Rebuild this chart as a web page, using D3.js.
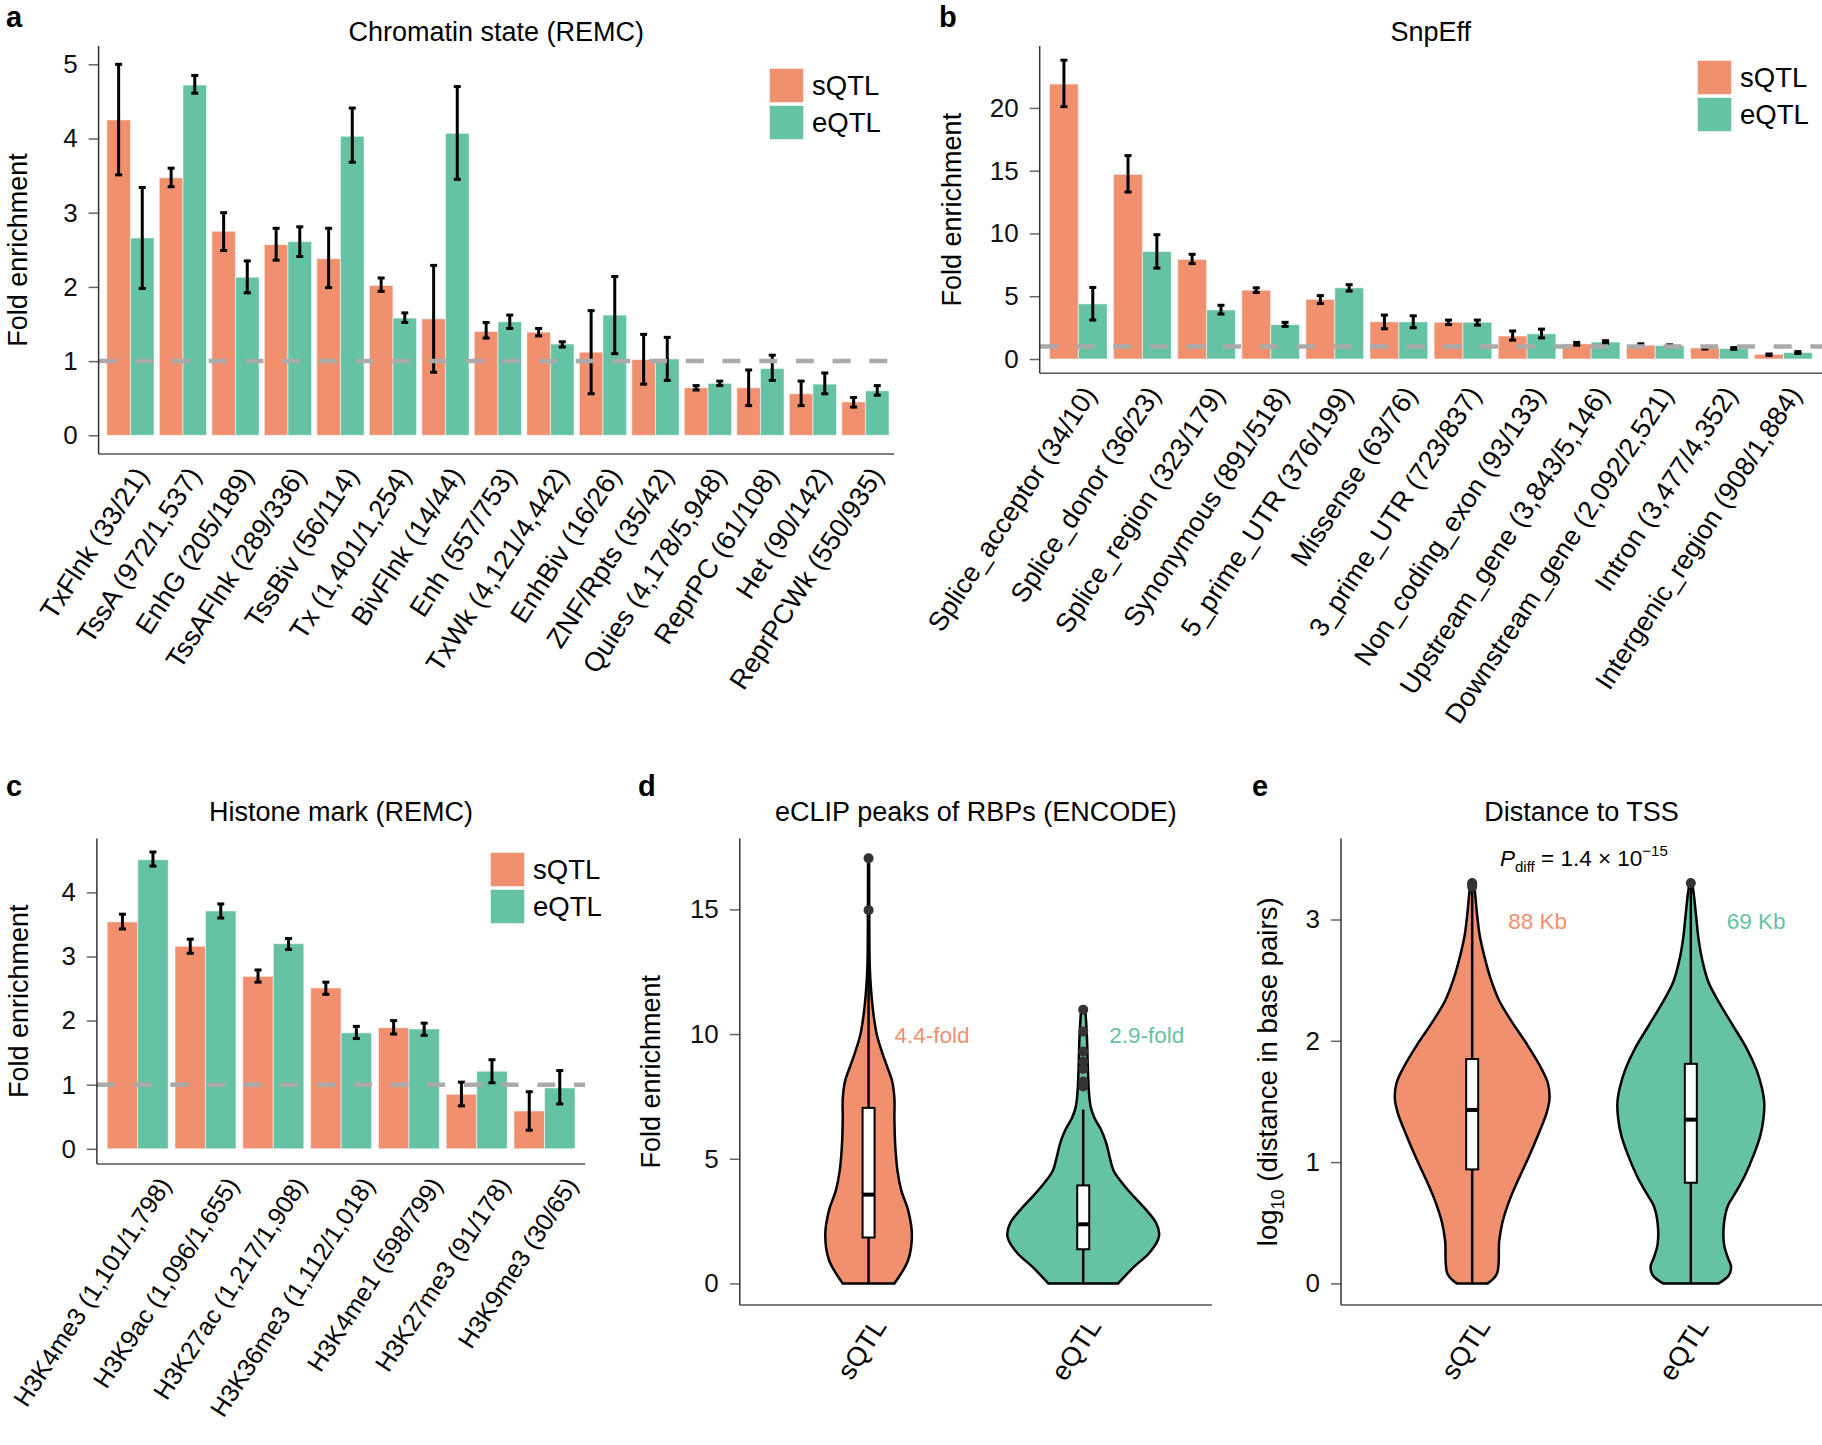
<!DOCTYPE html>
<html>
<head>
<meta charset="utf-8">
<script src="https://cdn.jsdelivr.net/npm/d3@7"></script>
<style>
  body { margin: 0; background: #fff; }
  text { font-family: 'Liberation Sans', Arial, Helvetica, sans-serif; }
</style>
</head>
<body>
<svg id="fig" width="1822" height="1445"></svg>
<script>
// ---- data ----
const groups = ['sQTL', 'eQTL']

const chromCats = ['TxFlnk (33/21)', 'TssA (972/1,537)', 'EnhG (205/189)', 'TssAFlnk (289/336)', 'TssBiv (56/114)',
  'Tx (1,401/1,254)', 'BivFlnk (14/44)', 'Enh (557/753)', 'TxWk (4,121/4,442)', 'EnhBiv (16/26)',
  'ZNF/Rpts (35/42)', 'Quies (4,178/5,948)', 'ReprPC (61/108)', 'Het (90/142)', 'ReprPCWk (550/935)']
const chromS = [4.25, 3.47, 2.75, 2.57, 2.38, 2.02, 1.57, 1.40, 1.39, 1.12, 1.02, 0.64, 0.64, 0.56, 0.45]
const chromE = [2.66, 4.72, 2.13, 2.61, 4.03, 1.58, 4.07, 1.53, 1.23, 1.62, 1.03, 0.70, 0.90, 0.69, 0.60]
const chromSErr = [[3.51, 5.0], [3.35, 3.6], [2.49, 3.0], [2.36, 2.79], [1.99, 2.79], [1.94, 2.12], [0.85, 2.29],
  [1.31, 1.52], [1.34, 1.44], [0.56, 1.68], [0.69, 1.36], [0.61, 0.67], [0.40, 0.88], [0.40, 0.73], [0.38, 0.51]]
const chromEErr = [[1.98, 3.34], [4.61, 4.85], [1.92, 2.35], [2.41, 2.81], [3.68, 4.41], [1.52, 1.65], [3.45, 4.70],
  [1.44, 1.62], [1.19, 1.26], [1.10, 2.14], [0.74, 1.32], [0.67, 0.73], [0.74, 1.08], [0.56, 0.84], [0.54, 0.67]]
const chromTicks = [0, 1, 2, 3, 4, 5]

const snpCats = ['Splice_acceptor (34/10)', 'Splice_donor (36/23)', 'Splice_region (323/179)', 'Synonymous (891/518)',
  '5_prime_UTR (376/199)', 'Missense (63/76)', '3_prime_UTR (723/837)', 'Non_coding_exon (93/133)',
  'Upstream_gene (3,843/5,146)', 'Downstream_gene (2,092/2,521)', 'Intron (3,477/4,352)', 'Intergenic_region (908/1,884)']
const snpS = [21.9, 14.7, 7.93, 5.48, 4.75, 2.96, 2.93, 1.83, 1.21, 1.10, 0.88, 0.37]
const snpE = [4.39, 8.56, 3.91, 2.74, 5.67, 2.96, 2.93, 2.01, 1.35, 1.06, 0.84, 0.51]
const snpSErr = [[20.1, 23.8], [13.3, 16.2], [7.6, 8.34], [5.3, 5.67], [4.42, 5.05], [2.41, 3.5], [2.74, 3.1],
  [1.5, 2.23], [1.1, 1.32], [1.02, 1.21], [0.8, 0.95], [0.29, 0.4]]
const snpEErr = [[3.1, 5.7], [7.24, 9.9], [3.58, 4.28], [2.6, 2.92], [5.41, 5.92], [2.49, 3.44], [2.7, 3.1],
  [1.68, 2.38], [1.24, 1.46], [0.99, 1.13], [0.77, 0.91], [0.44, 0.59]]
const snpTicks = [0, 5, 10, 15, 20]

const histCats = ['H3K4me3 (1,101/1,798)', 'H3K9ac (1,096/1,655)', 'H3K27ac (1,217/1,908)', 'H3K36me3 (1,112/1,018)',
  'H3K4me1 (598/799)', 'H3K27me3 (91/178)', 'H3K9me3 (30/65)']
const histS = [3.54, 3.16, 2.69, 2.51, 1.89, 0.85, 0.59]
const histE = [4.51, 3.71, 3.20, 1.81, 1.87, 1.21, 0.95]
const histSErr = [[3.43, 3.66], [3.05, 3.27], [2.6, 2.79], [2.41, 2.6], [1.79, 2.0], [0.67, 1.04], [0.29, 0.89]]
const histEErr = [[4.41, 4.63], [3.6, 3.82], [3.11, 3.28], [1.72, 1.91], [1.77, 1.96], [1.03, 1.39], [0.70, 1.22]]
const histTicks = [0, 1, 2, 3, 4]

// violin profiles: [value, relative density]
const eclipDensS = [[0, 0.34], [0.93, 0.52], [1.95, 0.57], [2.94, 0.52], [3.73, 0.43], [4.52, 0.38], [5.57, 0.35],
  [6.62, 0.34], [7.41, 0.34], [8.11, 0.31], [8.73, 0.24], [9.25, 0.18], [9.95, 0.11], [10.83, 0.063],
  [11.88, 0.03], [12.76, 0.015], [14, 0.01], [17.03, 0.007]]
const eclipDensE = [[0, 0.46], [0.67, 0.67], [1.19, 0.86], [1.72, 0.98], [1.98, 1.0], [2.42, 0.96], [2.94, 0.83],
  [3.47, 0.67], [4.0, 0.52], [4.52, 0.40], [5.05, 0.35], [5.66, 0.30], [6.19, 0.23], [6.62, 0.15], [7.06, 0.10],
  [7.67, 0.075], [8.73, 0.06], [9.78, 0.05], [10.83, 0.03], [11.0, 0.02]]
// box: [whiskerLo, q1, median, q3, whiskerHi]
const eclipBoxS = [0, 1.84, 3.56, 7.04, 14.6]
const eclipBoxE = [0, 1.37, 2.37, 3.93, 6.97]
const eclipOutS = [14.97, 17.05]
const eclipOutE = [7.9, 8.1, 8.6, 8.9, 9.3, 10.1, 10.98]
const eclipTicks = [0, 5, 10, 15]
const eclipNotes = ['4.4-fold', '2.9-fold']

const tssDensS = [[0, 0.20], [0.08, 0.32], [0.35, 0.35], [0.5, 0.39], [0.68, 0.48], [0.86, 0.60], [1.04, 0.73],
  [1.22, 0.85], [1.4, 0.96], [1.52, 1.0], [1.65, 0.98], [1.79, 0.88], [1.97, 0.71], [2.15, 0.52], [2.33, 0.35],
  [2.51, 0.24], [2.69, 0.16], [2.87, 0.097], [3.05, 0.062], [3.23, 0.035], [3.32, 0.016]]
const tssDensE = [[0, 0.36], [0.065, 0.49], [0.14, 0.52], [0.21, 0.48], [0.32, 0.43], [0.5, 0.43], [0.64, 0.48],
  [0.75, 0.58], [0.89, 0.70], [1.07, 0.82], [1.22, 0.90], [1.36, 0.94], [1.49, 0.95], [1.61, 0.92], [1.76, 0.85],
  [1.94, 0.72], [2.12, 0.55], [2.3, 0.38], [2.48, 0.23], [2.66, 0.15], [2.84, 0.10], [3.02, 0.07], [3.2, 0.04],
  [3.29, 0.02]]
const tssBoxS = [0, 0.94, 1.43, 1.85, 3.25]
const tssBoxE = [0, 0.83, 1.35, 1.81, 3.27]
const tssOutS = [3.27, 3.29, 3.3]
const tssOutE = [3.3]
const tssTicks = [0, 1, 2, 3]
const tssNotes = ['88 Kb', '69 Kb']

// ---- drawing ----
const svg = d3.select('#fig')
const color = d3.scaleOrdinal().domain(groups).range(['#F0906F', '#66C2A5'])
const FONT = "'Liberation Sans', Arial, Helvetica, sans-serif"

function frame (g, p) {
  // y axis with ticks
  const ax = g.append('g').attr('transform', `translate(${p.left},0)`)
    .call(d3.axisLeft(p.y).tickValues(p.ticks).tickFormat(d3.format('d')).tickSize(10).tickPadding(11))
  ax.select('.domain').remove()
  ax.attr('font-size', 26).attr('font-family', FONT)
  ax.selectAll('line').attr('stroke', '#666').attr('stroke-width', 1.5)
  ax.selectAll('text').attr('fill', '#111')
  g.append('line').attr('x1', p.left).attr('x2', p.left).attr('y1', p.top).attr('y2', p.bottom)
    .attr('stroke', '#333').attr('stroke-width', 1.5)
  g.append('line').attr('x1', p.left).attr('x2', p.right).attr('y1', p.bottom).attr('y2', p.bottom)
    .attr('stroke', '#555').attr('stroke-width', 1.5)
  // titles
  g.append('text').attr('x', (p.left + p.right) / 2).attr('y', p.titleY).attr('dy', '0.35em')
    .attr('text-anchor', 'middle').attr('font-size', 27).text(p.title)
  g.append('text').attr('x', p.tag[0]).attr('y', p.tag[1]).attr('font-size', 29)
    .attr('font-weight', 'bold').text(p.tagText)
  if (p.yTitle) {
    g.append('text').attr('transform', `translate(${p.yTitleX},${(p.top + p.bottom) / 2}) rotate(-90)`)
      .attr('text-anchor', 'middle').attr('font-size', 27).text(p.yTitle)
  }
}

function xLabels (g, cats, xc, bottom, dx, size) {
  g.selectAll('text.xl').data(cats).enter().append('text')
    .attr('class', 'xl')
    .attr('transform', d => `translate(${xc(d) + dx},${bottom + 16}) rotate(-57)`)
    .attr('text-anchor', 'end').attr('dy', '0.35em').attr('font-size', size)
    .text(d => d)
}

function legend (g, x, y) {
  const lg = g.append('g').attr('transform', `translate(${x},${y})`)
  groups.forEach((k, i) => {
    lg.append('rect').attr('x', 0).attr('y', i * 37).attr('width', 35).attr('height', 35)
      .attr('fill', color(k)).attr('stroke', '#fff').attr('stroke-width', 1.5)
    lg.append('text').attr('x', 43).attr('y', i * 37 + 17.5).attr('dy', '0.36em')
      .attr('font-size', 27.5).text(k)
  })
}

function barPanel (p) {
  const g = svg.append('g')
  const y = d3.scaleLinear().domain([0, p.yMax]).range([p.zeroY, p.maxY])
  const x0 = d3.scaleBand().domain(p.cats).range(p.band).paddingInner(0.1).paddingOuter(0.05)
  const x1 = d3.scaleBand().domain(groups).range([0, x0.bandwidth()])
  const rows = p.cats.map((c, i) => ({
    c,
    vals: [{ k: 'sQTL', v: p.s[i], err: p.sErr[i] }, { k: 'eQTL', v: p.e[i], err: p.eErr[i] }]
  }))
  const grp = g.selectAll('g.grp').data(rows).enter().append('g')
    .attr('class', 'grp').attr('transform', d => `translate(${x0(d.c)},0)`)
  grp.selectAll('rect').data(d => d.vals).enter().append('rect')
    .attr('x', d => x1(d.k)).attr('width', x1.bandwidth())
    .attr('y', d => y(d.v)).attr('height', d => y(0) - y(d.v))
    .attr('fill', d => color(d.k))
    .attr('stroke', 'rgba(255,255,255,0.55)').attr('stroke-width', 1)

  g.append('line').attr('x1', p.left).attr('x2', p.right).attr('y1', y(1)).attr('y2', y(1))
    .attr('stroke', '#aaa').attr('stroke-width', 4.5).attr('stroke-dasharray', '18,18.7')

  const eb = grp.selectAll('g.eb').data(d => d.vals).enter().append('g')
    .attr('transform', d => `translate(${x1(d.k) + x1.bandwidth() / 2},0)`)
  eb.append('line').attr('y1', d => y(d.err[0])).attr('y2', d => y(d.err[1]))
    .attr('stroke', '#000').attr('stroke-width', 3)
  eb.append('line').attr('x1', -3.5).attr('x2', 3.5).attr('y1', d => y(d.err[0])).attr('y2', d => y(d.err[0]))
    .attr('stroke', '#000').attr('stroke-width', 3)
  eb.append('line').attr('x1', -3.5).attr('x2', 3.5).attr('y1', d => y(d.err[1])).attr('y2', d => y(d.err[1]))
    .attr('stroke', '#000').attr('stroke-width', 3)

  frame(g, Object.assign({ y }, p))
  xLabels(g, p.cats, d => x0(d) + x0.bandwidth() / 2, p.bottom, p.labelDx, p.labelSize)
  legend(g, p.legend[0], p.legend[1])
}

function violinPanel (p) {
  const g = svg.append('g')
  const y = d3.scaleLinear().domain([0, p.yMax]).range([p.zeroY, p.maxY])
  const x = d3.scalePoint().domain(groups).range([p.left, p.right]).padding(0.6)
  const w = d3.scaleLinear().domain([0, 1]).range([0, p.maxHalf])
  const items = [
    { k: 'sQTL', dens: p.densS, box: p.boxS, out: p.outS, note: p.notes[0] },
    { k: 'eQTL', dens: p.densE, box: p.boxE, out: p.outE, note: p.notes[1] }
  ]
  const vg = g.selectAll('g.v').data(items).enter().append('g')
    .attr('transform', d => `translate(${x(d.k)},0)`)
  const area = d3.area().curve(d3.curveCatmullRom)
    .y(d => y(d[0])).x0(d => -w(d[1])).x1(d => w(d[1]))
  vg.append('path').attr('d', d => area(d.dens) + 'Z')
    .attr('fill', d => color(d.k)).attr('stroke', '#000').attr('stroke-width', 2.5)
  vg.append('line').attr('y1', d => y(d.box[0])).attr('y2', d => y(d.box[4]))
    .attr('stroke', '#000').attr('stroke-width', 2.5)
  vg.append('rect').attr('x', -6).attr('width', 12)
    .attr('y', d => y(d.box[3])).attr('height', d => y(d.box[1]) - y(d.box[3]))
    .attr('fill', '#fff').attr('stroke', '#000').attr('stroke-width', 2)
  vg.append('line').attr('x1', -6).attr('x2', 6).attr('y1', d => y(d.box[2])).attr('y2', d => y(d.box[2]))
    .attr('stroke', '#000').attr('stroke-width', 4)
  vg.selectAll('circle').data(d => d.out).enter().append('circle')
    .attr('cy', d => y(d)).attr('r', 5).attr('fill', '#333')
  vg.append('text').attr('x', p.noteDx).attr('y', p.noteY).attr('dy', '0.35em')
    .attr('font-size', 22.5).attr('fill', d => color(d.k)).text(d => d.note)

  frame(g, Object.assign({ y }, p))
  xLabels(g, groups, d => x(d), p.bottom, 11, 27)
  return g
}

barPanel({
  cats: chromCats, s: chromS, e: chromE, sErr: chromSErr, eErr: chromEErr, ticks: chromTicks,
  yMax: 5, zeroY: 435.3, maxY: 64.3, band: [104.2, 891.7],
  left: 98.6, right: 894, top: 46, bottom: 454, labelDx: 11, labelSize: 27,
  title: 'Chromatin state (REMC)', titleY: 32, tag: [6, 27], tagText: 'a',
  yTitle: 'Fold enrichment', yTitleX: 27, legend: [769, 68]
})

barPanel({
  cats: snpCats, s: snpS, e: snpE, sErr: snpSErr, eErr: snpEErr, ticks: snpTicks,
  yMax: 20, zeroY: 359, maxY: 107.9, band: [1046.3, 1815.5],
  left: 1039.7, right: 1822, top: 46, bottom: 373.3, labelDx: 11, labelSize: 27,
  title: 'SnpEff', titleY: 32, tag: [939, 27], tagText: 'b',
  yTitle: 'Fold enrichment', yTitleX: 961, legend: [1697, 60]
})

barPanel({
  cats: histCats, s: histS, e: histE, sErr: histSErr, eErr: histEErr, ticks: histTicks,
  yMax: 4, zeroY: 1148.8, maxY: 892.4, band: [103.8, 578.4],
  left: 96.9, right: 585, top: 838.6, bottom: 1164, labelDx: 27, labelSize: 25,
  title: 'Histone mark (REMC)', titleY: 812, tag: [6, 796], tagText: 'c',
  yTitle: 'Fold enrichment', yTitleX: 28, legend: [490, 852]
})

violinPanel({
  densS: eclipDensS, densE: eclipDensE, boxS: eclipBoxS, boxE: eclipBoxE, outS: eclipOutS, outE: eclipOutE,
  notes: eclipNotes, ticks: eclipTicks, yMax: 15, zeroY: 1283.4, maxY: 909.4, maxHalf: 76,
  left: 739.8, right: 1212, top: 838.6, bottom: 1305, noteDx: 26, noteY: 1035,
  title: 'eCLIP peaks of RBPs (ENCODE)', titleY: 812, tag: [638, 796], tagText: 'd',
  yTitle: 'Fold enrichment', yTitleX: 660
})

const ge = violinPanel({
  densS: tssDensS, densE: tssDensE, boxS: tssBoxS, boxE: tssBoxE, outS: tssOutS, outE: tssOutE,
  notes: tssNotes, ticks: tssTicks, yMax: 3, zeroY: 1283.4, maxY: 919.5, maxHalf: 77.3,
  left: 1341, right: 1822, top: 838.6, bottom: 1305, noteDx: 36, noteY: 921,
  title: 'Distance to TSS', titleY: 812, tag: [1252, 796], tagText: 'e'
})

// y title with subscript for panel e
const yt = ge.append('text').attr('transform', `translate(1277,${(838.6 + 1305) / 2}) rotate(-90)`)
  .attr('text-anchor', 'middle').attr('font-size', 27.5)
yt.append('tspan').text('log')
yt.append('tspan').attr('font-size', 18).attr('dy', 7).text('10')
yt.append('tspan').attr('dy', -7).text(' (distance in base pairs)')

// P value annotation
const pt = ge.append('text').attr('x', 1500).attr('y', 866).attr('font-size', 22.5)
pt.append('tspan').attr('font-style', 'italic').text('P')
pt.append('tspan').attr('font-size', 15).attr('dy', 6).text('diff')
pt.append('tspan').attr('dy', -6).text(' = 1.4 \u00d7 10')
pt.append('tspan').attr('font-size', 15).attr('dy', -10).text('\u221215')
</script>
</body>
</html>
